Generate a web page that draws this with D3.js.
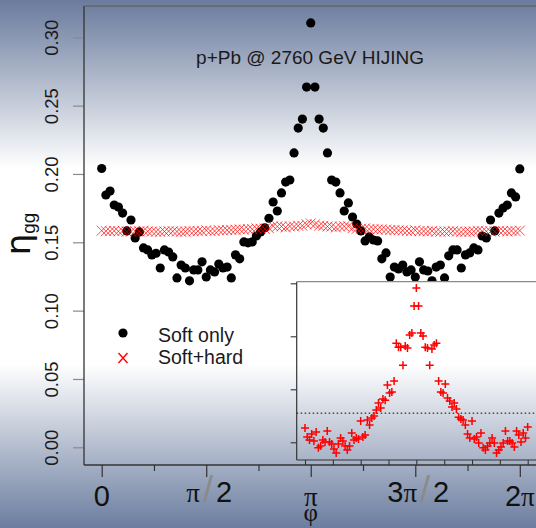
<!DOCTYPE html>
<html><head><meta charset="utf-8">
<script src="https://cdn.jsdelivr.net/npm/d3@7"></script>
<style>body{margin:0;background:#fff;} svg{display:block;}</style>
</head><body>
<svg id="c" width="536" height="528"></svg>
<script>
// ---------- data ----------
const nBins = 100;
const phiTicks = [0, Math.PI/2, Math.PI, 3*Math.PI/2, 2*Math.PI];
const phiTickLabels = ["0", "π/2", "π", "3π/2", "2π"];
const phiMinorTicks = [Math.PI/4, 3*Math.PI/4, 5*Math.PI/4, 7*Math.PI/4];
const yTicks = [0.00, 0.05, 0.10, 0.15, 0.20, 0.25, 0.30];
const insetYTicks = [0.158, 0.160, 0.162, 0.164];
const insetXTicks = [0, Math.PI/4, Math.PI/2, 3*Math.PI/4, Math.PI, 5*Math.PI/4, 3*Math.PI/2, 7*Math.PI/4, 2*Math.PI];
const insetRefLine = 0.1591;
const legendLabels = ["Soft only", "Soft+hard"];
const titleText = "p+Pb @ 2760 GeV HIJING";

const softOnly = [
 0.2040,0.1846,0.1875,0.1773,0.1758,0.1714,0.1583,0.1663,0.1532,0.1576,
 0.1459,0.1444,0.1408,0.1420,0.1312,0.1444,0.1429,0.1393,0.1239,0.1334,
 0.1312,0.1218,0.1298,0.1298,0.1357,0.1246,0.1298,0.1283,0.1341,0.1312,
 0.1319,0.1239,0.1408,0.1379,0.1503,0.1496,0.1503,0.1546,0.1576,0.1606,
 0.1676,0.1795,0.1729,0.1861,0.1941,0.1956,0.2154,0.2336,0.2402,0.2636,
 0.3105,
 0.2636,0.2402,0.2336,0.2154,0.1956,0.1941,0.1861,0.1729,0.1788,0.1685,
 0.1634,0.1583,0.1510,0.1539,0.1517,0.1510,0.1379,0.1422,0.1246,0.1319,
 0.1305,0.1334,0.1283,0.1298,0.1246,0.1357,0.1298,0.1290,0.1218,0.1319,
 0.1334,0.1239,0.1401,0.1444,0.1444,0.1312,0.1408,0.1422,0.1459,0.1444,
 0.1546,0.1532,0.1663,0.1583,0.1714,0.1751,0.1773,0.1861,0.1832,0.2037
];
const softHard = [
 0.15854,0.15820,0.15809,0.15831,0.15805,0.15839,0.15779,0.15786,0.15809,0.15801,
 0.15843,0.15801,0.15794,0.15775,0.15760,0.15794,0.15816,0.15805,0.15786,0.15771,
 0.15786,0.15835,0.15809,0.15816,0.15812,0.15880,0.15820,0.15828,0.15884,0.15865,
 0.15892,0.15899,0.15922,0.15948,0.15929,0.15963,0.15959,0.16016,0.15986,0.15990,
 0.16031,0.16174,0.16159,0.16159,0.16091,0.16163,0.16156,0.16205,0.16212,0.16314,
 0.16382,
 0.16314,0.16212,0.16201,0.16159,0.16156,0.16091,0.16152,0.16167,0.16174,0.16031,
 0.15990,0.15986,0.16020,0.15967,0.15956,0.15933,0.15948,0.15926,0.15895,0.15888,
 0.15884,0.15865,0.15831,0.15816,0.15880,0.15812,0.15820,0.15797,0.15835,0.15779,
 0.15771,0.15786,0.15797,0.15816,0.15797,0.15760,0.15771,0.15782,0.15797,0.15843,
 0.15805,0.15805,0.15797,0.15782,0.15843,0.15828,0.15801,0.15835,0.15816,0.15858
];
const phi = softOnly.map((_, i) => i * 2 * Math.PI / nBins);

// ---------- layout ----------
const W = 536, H = 528;
const svg = d3.select("#c");
const defs = svg.append("defs");
const grad = defs.append("linearGradient").attr("id", "bg")
  .attr("gradientUnits", "userSpaceOnUse").attr("x1", 0).attr("y1", 0).attr("x2", 0).attr("y2", H);
[[0, "#6a7b9d"], [0.32, "#ffffff"], [0.69, "#ffffff"], [1, "#6b7d9f"]].forEach(s =>
  grad.append("stop").attr("offset", s[0]).attr("stop-color", s[1]));
svg.append("rect").attr("width", W).attr("height", H).attr("fill", "url(#bg)");

const sans = "'Liberation Sans', Arial, sans-serif";
const serif = "'Liberation Serif', 'Times New Roman', serif";
const plot = {left: 84, top: 6, bottom: 465, right: 560};

const x = d3.scaleLinear().domain([0, 2 * Math.PI]).range([101.7, 519.8]);
const y = d3.scaleLinear().domain([0, 0.30]).range([447.3, 37.3]);

// y axis
const gy = svg.append("g").attr("transform", `translate(${plot.left},0)`)
  .call(d3.axisLeft(y).tickValues(yTicks).tickSize(11).tickPadding(0).tickFormat(d3.format(".2f")));
gy.select(".domain").remove();
gy.selectAll(".tick line").attr("stroke", "#8a8a8a").attr("stroke-width", 1.2);
gy.selectAll(".tick text").attr("transform", "rotate(-90)").attr("x", 0).attr("y", -26).attr("dy", 0)
  .attr("text-anchor", "middle").attr("font-family", sans).attr("font-size", 18.5).attr("fill", "#1a1a1a");

// x axis major
const gx = svg.append("g").attr("transform", `translate(0,${plot.bottom})`)
  .call(d3.axisBottom(x).tickValues(phiTicks).tickSize(12).tickFormat(""));
gx.select(".domain").remove();
gx.selectAll(".tick line").attr("stroke", "#333").attr("stroke-width", 1.2);
const gxm = svg.append("g").attr("transform", `translate(0,${plot.bottom})`)
  .call(d3.axisBottom(x).tickValues(phiMinorTicks).tickSize(6).tickFormat(""));
gxm.select(".domain").remove();
gxm.selectAll(".tick line").attr("stroke", "#333").attr("stroke-width", 1.2);

// x tick labels with pi in serif
const labelG = svg.append("g");
phiTicks.forEach((v, k) => {
  const s = phiTickLabels[k];
  const frac = s.includes("/");
  const t = labelG.append("text").attr("x", x(v) + (frac ? 3 : 0)).attr("y", frac ? 502 : 506)
    .attr("text-anchor", "middle").attr("font-family", sans).attr("font-size", 29).attr("fill", "#111");
  for (const ch of s) {
    if (ch === "π") t.append("tspan").attr("font-family", serif).attr("font-size", 27).text("π");
    else if (ch === "/") t.append("tspan").attr("font-size", 36).attr("fill", "#8a8a8a").attr("font-weight", 100).attr("dx", 3).text("/");
    else t.append("tspan").attr("dx", frac && ch === "2" ? 3 : 0).text(ch);
  }
});

// axis titles
svg.append("text").attr("x", x(Math.PI)).attr("y", 521).attr("text-anchor", "middle")
  .attr("font-family", serif).attr("font-size", 25).attr("fill", "#111").text("φ");
const yt = svg.append("text").attr("transform", "translate(30,234) rotate(-90)").attr("text-anchor", "middle")
  .attr("fill", "#111");
yt.append("tspan").attr("font-family", "'DejaVu Sans', sans-serif").attr("font-size", 34).text("η");
yt.append("tspan").attr("font-family", sans).attr("font-size", 19).attr("dy", 5).text("gg");

// frame
svg.append("line").attr("x1", plot.left).attr("x2", plot.left).attr("y1", plot.top).attr("y2", plot.bottom).attr("stroke", "#333").attr("stroke-width", 1.3);
svg.append("line").attr("x1", plot.left).attr("x2", plot.right).attr("y1", plot.bottom).attr("y2", plot.bottom).attr("stroke", "#333").attr("stroke-width", 1.3);
svg.append("line").attr("x1", plot.left).attr("x2", plot.right).attr("y1", plot.top).attr("y2", plot.top).attr("stroke", "#666").attr("stroke-width", 1.3);

// title
svg.append("text").attr("x", 310).attr("y", 63.5).attr("text-anchor", "middle")
  .attr("font-family", sans).attr("font-size", 19).attr("fill", "#1a1a1a").text(titleText);

// data: soft only
svg.append("g").selectAll("circle").data(softOnly).join("circle")
  .attr("cx", (d, i) => x(phi[i])).attr("cy", d => y(d)).attr("r", 4.6).attr("fill", "#000");
// data: soft+hard
const xMark = "M-5,-5L5,5M-5,5L5,-5";
svg.append("g").selectAll("path").data(softHard).join("path")
  .attr("transform", (d, i) => `translate(${x(phi[i])},${y(d)})`)
  .attr("d", xMark).attr("stroke", "#ff0000").attr("stroke-width", 1).attr("stroke-opacity", 0.7).attr("fill", "none");

// legend
const lg = svg.append("g");
lg.append("circle").attr("cx", 123).attr("cy", 333).attr("r", 4.6).attr("fill", "#000");
lg.append("path").attr("transform", "translate(123,358)").attr("d", "M-4.5,-5L4.5,5M-4.5,5L4.5,-5")
  .attr("stroke", "#ff0000").attr("stroke-width", 1.4).attr("fill", "none");
lg.selectAll("text").data(legendLabels).join("text")
  .attr("x", 158).attr("y", (d, i) => 342 + i * 22).attr("font-family", sans).attr("font-size", 19.5)
  .attr("fill", "#1a1a1a").text(d => d);

// ---------- inset ----------
const ins = {left: 296.7, top: 281.7, bottom: 460, right: 560};
const xi = d3.scaleLinear().domain([0, 2 * Math.PI]).range([305, 527.7]);
const yi = d3.scaleLinear().domain([0.158, 0.164]).range([442.3, 283.3]);
const ig = svg.append("g");
ig.append("rect").attr("x", ins.left).attr("y", ins.top).attr("width", ins.right - ins.left).attr("height", ins.bottom - ins.top)
  .attr("fill", "url(#bg)");
const giy = ig.append("g").attr("transform", `translate(${ins.left},0)`)
  .call(d3.axisLeft(yi).tickValues(insetYTicks).tickSize(6).tickFormat(""));
giy.select(".domain").remove();
giy.selectAll(".tick line").attr("stroke", "#333").attr("stroke-width", 1.1);
const gix = ig.append("g").attr("transform", `translate(0,${ins.bottom})`)
  .call(d3.axisBottom(xi).tickValues(insetXTicks).tickSize(5).tickFormat(""));
gix.select(".domain").remove();
gix.selectAll(".tick line").attr("stroke", "#333").attr("stroke-width", 1.1);
ig.append("line").attr("x1", ins.left).attr("x2", ins.right).attr("y1", yi(insetRefLine)).attr("y2", yi(insetRefLine))
  .attr("stroke", "#000").attr("stroke-width", 1).attr("stroke-dasharray", "1.5,2.5");
ig.append("g").selectAll("path").data(softHard).join("path")
  .attr("transform", (d, i) => `translate(${xi(phi[i])},${yi(d)})`)
  .attr("d", "M-4,0L4,0M0,-4L0,4").attr("stroke", "#ff0000").attr("stroke-width", 1.5).attr("fill", "none");
ig.append("line").attr("x1", ins.left).attr("x2", ins.left).attr("y1", ins.top).attr("y2", ins.bottom).attr("stroke", "#333").attr("stroke-width", 1.2);
ig.append("line").attr("x1", ins.left).attr("x2", ins.right).attr("y1", ins.bottom).attr("y2", ins.bottom).attr("stroke", "#333").attr("stroke-width", 1.2);
ig.append("line").attr("x1", ins.left).attr("x2", ins.right).attr("y1", ins.top).attr("y2", ins.top).attr("stroke", "#8a8a8a").attr("stroke-width", 1.2);
</script>
</body></html>
